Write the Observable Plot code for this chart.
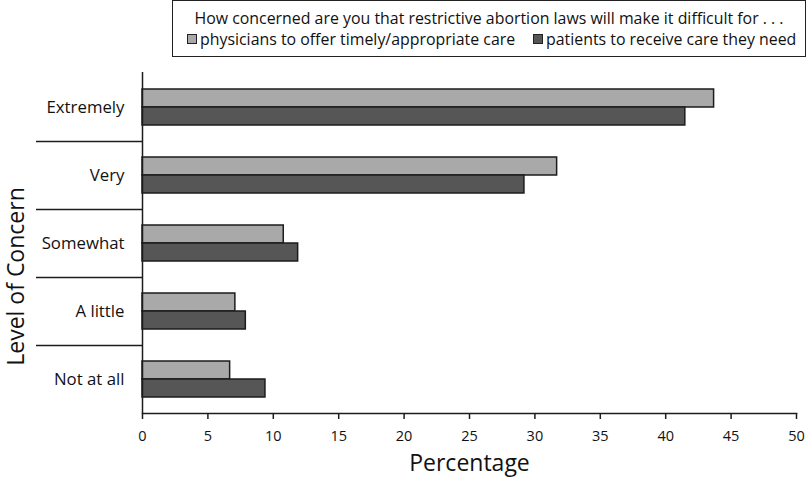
<!DOCTYPE html>
<html>
<head>
<meta charset="utf-8">
<script src="https://cdn.jsdelivr.net/npm/d3@7"></script>
<script src="https://cdn.jsdelivr.net/npm/@observablehq/plot@0.6"></script>
<style>
  html, body { margin: 0; padding: 0; background: #fff; }
  #wrap { position: relative; width: 807px; height: 487px; font-family: "Open Sans", sans-serif; }
  #legend { position: absolute; left: 172px; top: 0px; width: 634px; height: 57px; box-sizing: border-box;
    border: 1.5px solid #222; background: #fff; color: #111; }
  #legend .title { position: absolute; left: 0; right: 0; top: 6px; text-align: center; font-size: 15.9px; white-space: nowrap; }
  #legend .item { position: absolute; top: 27px; display: inline-flex; align-items: center; font-size: 15.9px; white-space: nowrap; }
  #legend .sw { display: inline-block; width: 8px; height: 8px; border: 1.2px solid #222; margin-right: 3px; }
</style>
</head>
<body>
<div id="wrap"></div>
<script>
const categories = ["Extremely", "Very", "Somewhat", "A little", "Not at all"];
const seriesNames = ["physicians to offer timely/appropriate care", "patients to receive care they need"];
const physicians = [43.7, 31.7, 10.8, 7.1, 6.7];
const patients = [41.5, 29.2, 11.9, 7.9, 9.4];
const xTicks = [0, 5, 10, 15, 20, 25, 30, 35, 40, 45, 50];
const legendTitle = "How concerned are you that restrictive abortion laws will make it difficult for . . .";
const colors = ["#a9a9a9", "#565656"];

const rows = [];
categories.forEach((c, i) => {
  rows.push({category: c, series: seriesNames[0], value: physicians[i]});
  rows.push({category: c, series: seriesNames[1], value: patients[i]});
});

const ink = "#1c1c1c";
const chart = Plot.plot({
  width: 807,
  height: 487,
  marginLeft: 142,
  marginRight: 11,
  marginTop: 72,
  marginBottom: 74,
  style: {fontFamily: "'Open Sans', sans-serif", background: "white", color: "#111", overflow: "visible"},
  x: {domain: [0, 50], label: null},
  y: {domain: categories, padding: 0, label: null},
  color: {domain: seriesNames, range: colors},
  marks: [
    Plot.barX(rows.filter(d => d.series === seriesNames[0]), {x: "value", y: "category", fill: "series", stroke: ink, strokeWidth: 1.5, insetTop: 16, insetBottom: 34}),
    Plot.barX(rows.filter(d => d.series === seriesNames[1]), {x: "value", y: "category", fill: "series", stroke: ink, strokeWidth: 1.5, insetTop: 34, insetBottom: 16}),
    Plot.ruleX([0], {stroke: ink, strokeWidth: 1.5}),
    Plot.frame({anchor: "bottom", stroke: ink, strokeWidth: 1.5}),
    Plot.axisX({ticks: xTicks, tickSize: 6, tickPadding: 11, fontSize: 14.5, label: null, stroke: ink, strokeWidth: 1.5}),
    Plot.axisY({tickSize: 0, tickPadding: 18, fontSize: 16.8, label: null}),
    Plot.axisY({ticks: categories.slice(1), tickSize: 106, tickFormat: () => "", dy: -34.1, stroke: ink, strokeWidth: 1.5, label: null}),
    Plot.text(["Percentage"], {frameAnchor: "bottom", dy: 57, fontSize: 23, fill: "#111"}),
    Plot.text(["Level of Concern"], {frameAnchor: "left", textAnchor: "middle", rotate: -90, dx: -126, dy: 33.5, fontSize: 23, fill: "#111"})
  ]
});

const wrap = document.getElementById("wrap");
wrap.appendChild(chart);

const legend = document.createElement("div");
legend.id = "legend";
const t = document.createElement("div");
t.className = "title";
t.textContent = legendTitle;
legend.appendChild(t);
const itemLefts = [14, 360];
seriesNames.forEach((s, i) => {
  const it = document.createElement("span");
  it.className = "item";
  it.style.left = itemLefts[i] + "px";
  const sw = document.createElement("span");
  sw.className = "sw";
  sw.style.background = colors[i];
  it.appendChild(sw);
  it.appendChild(document.createTextNode(s));
  legend.appendChild(it);
});
wrap.appendChild(legend);
</script>
</body>
</html>
